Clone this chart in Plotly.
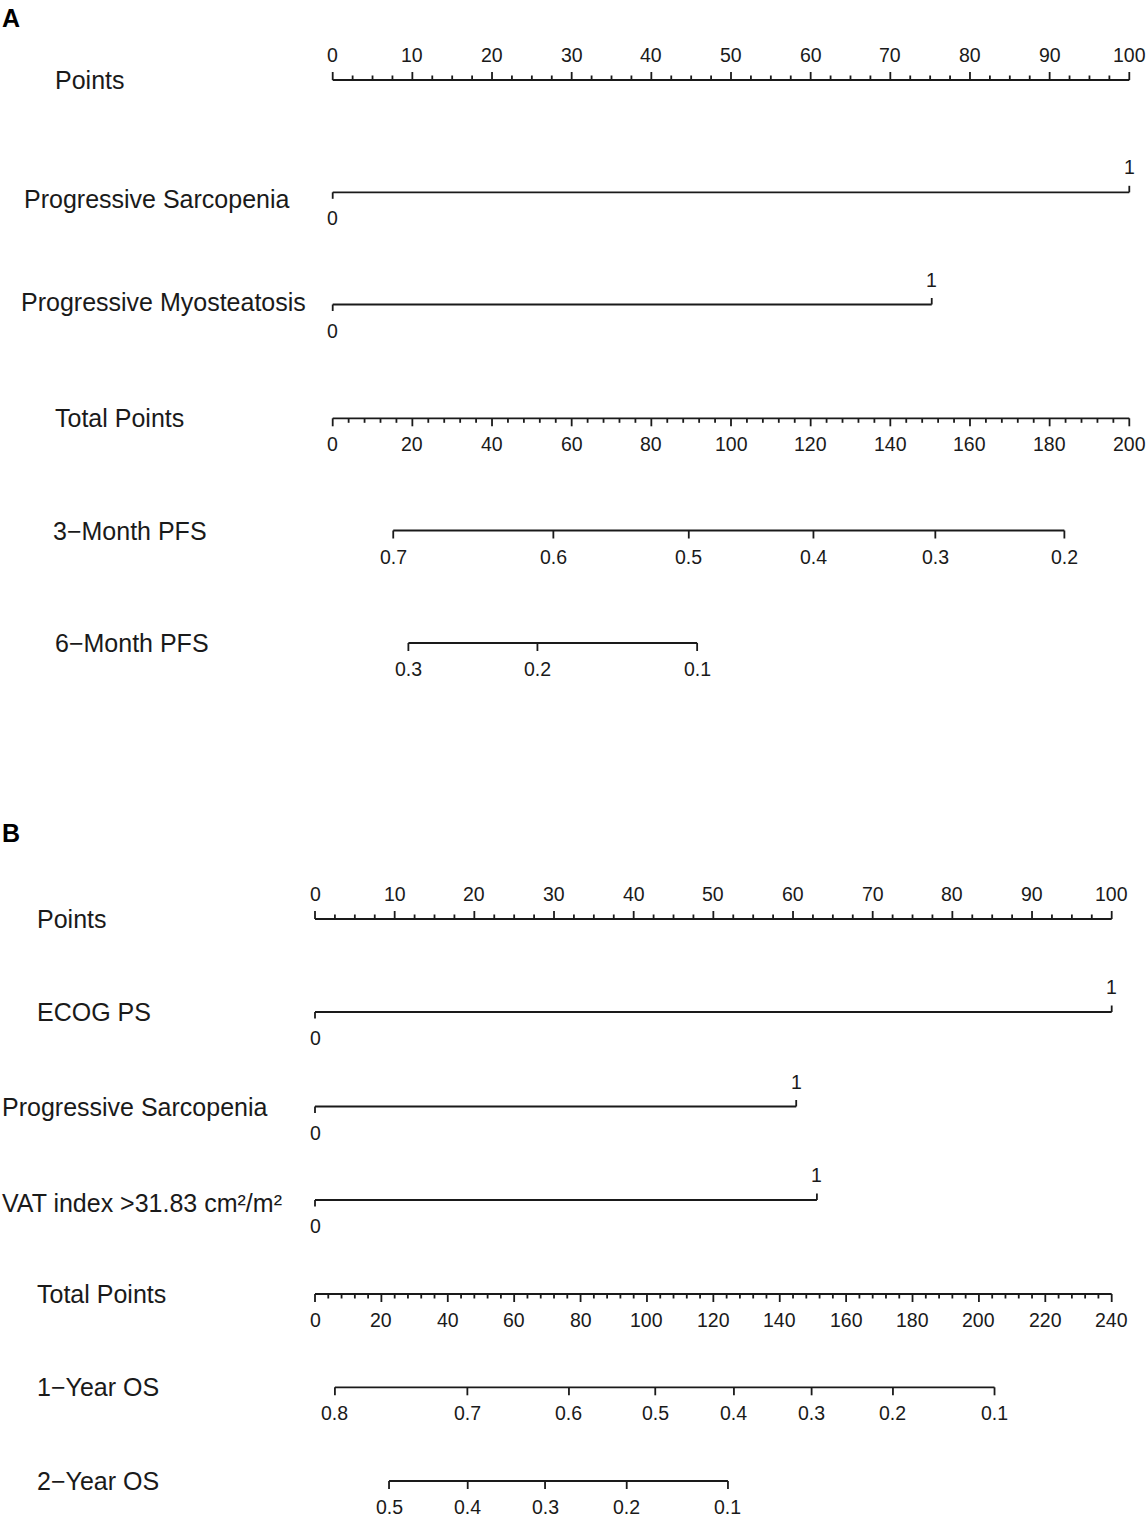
import plotly.graph_objects as go

W, H = 1148, 1517
FONT = "Liberation Sans, Arial, sans-serif"
INK = "#1a1a1a"

# ---------------- Panel A data ----------------
a_points_major = list(range(0, 101, 10))
a_points_minor_step = 2.5
a_var_names = ["Progressive Sarcopenia", "Progressive Myosteatosis"]
a_var_levels = [["0", "1"], ["0", "1"]]
a_var_points = [[0, 100], [0, 75.2]]
a_total_max = 200
a_total_major = list(range(0, 201, 20))
a_total_minor_step = 4
a_pfs3_labels = ["0.7", "0.6", "0.5", "0.4", "0.3", "0.2"]
a_pfs3_total = [15.2, 55.4, 89.4, 120.7, 151.3, 183.7]
a_pfs6_labels = ["0.3", "0.2", "0.1"]
a_pfs6_total = [19.0, 51.4, 91.5]

# ---------------- Panel B data ----------------
b_points_major = list(range(0, 101, 10))
b_points_minor_step = 2.5
b_var_names = ["ECOG PS", "Progressive Sarcopenia", "VAT index >31.83 cm²/m²"]
b_var_levels = [["0", "1"], ["0", "1"], ["0", "1"]]
b_var_points = [[0, 100], [0, 60.4], [0, 63.0]]
b_total_max = 240
b_total_major = list(range(0, 241, 20))
b_total_minor_step = 4
b_os1_labels = ["0.8", "0.7", "0.6", "0.5", "0.4", "0.3", "0.2", "0.1"]
b_os1_total = [6.0, 45.9, 76.5, 102.5, 126.2, 149.6, 174.1, 204.7]
b_os2_labels = ["0.5", "0.4", "0.3", "0.2", "0.1"]
b_os2_total = [22.3, 46.0, 69.3, 93.9, 124.4]

# ---------------- layout (pixel geometry) ----------------
A_X0, A_X100 = 332.7, 1129.3   # pixel of 0 and 100 points, panel A
B_X0, B_X100 = 315.0, 1111.7   # panel B
A_ROWS = [80, 192.3, 304.5, 418.3, 530.5, 643]
B_ROWS = [919, 1012, 1106.5, 1200, 1294, 1387.3, 1481]
A_LABEL_X = [53, 22, 19, 53, 51, 53]
A_LABEL_DY = [0, 7, -3, 0, 0, 0]
B_LABEL_X = [35, 35, 0, 0, 35, 35, 35]
B_LABEL_DY = [0, 0, 0, 3, 0, 0, 0]
MAJ, MIN, END = 8, 4.5, 6.5
LAB_UP, LAB_DN = 25, 26

fig = go.Figure()
annotations = []


def add_text(xref, x, y, text, size=19.5, xanchor="center"):
    annotations.append(dict(xref=xref, yref="y", x=x, y=y, text=text, showarrow=False,
                            xanchor=xanchor, yanchor="middle", borderpad=0,
                            font=dict(family=FONT, size=size, color=INK)))


def build_panel(xaxis, xref, rows, label_x, label_dy, names, pts_major, pts_minor,
                var_names, var_levels, var_points, tot_max, tot_major, tot_minor,
                prob_sets):
    xs, ys = [], []

    def seg(x1, y1, x2, y2):
        xs.extend([x1, x2, None])
        ys.extend([y1, y2, None])

    # Points axis
    y = rows[0]
    seg(pts_major[0], y, pts_major[-1], y)
    n = int(round((pts_major[-1] - pts_major[0]) / pts_minor))
    for i in range(n + 1):
        v = pts_major[0] + i * pts_minor
        is_major = any(abs(v - m) < 1e-9 for m in pts_major)
        seg(v, y, v, y - (MAJ if is_major else MIN))
    for m in pts_major:
        add_text(xref, m, y - LAB_UP, str(m))

    # binary variables
    for k, (lv, pv) in enumerate(zip(var_levels, var_points)):
        y = rows[1 + k]
        seg(pv[0], y, pv[1], y)
        seg(pv[0], y, pv[0], y + END)
        seg(pv[1], y, pv[1], y - END)
        add_text(xref, pv[0], y + LAB_DN, lv[0])
        add_text(xref, pv[1], y - LAB_UP, lv[1])

    # Total points axis
    r = 1 + len(var_levels)
    y = rows[r]
    sc = 100.0 / tot_max
    seg(0, y, tot_max * sc, y)
    n = int(round(tot_max / tot_minor))
    for i in range(n + 1):
        v = i * tot_minor
        is_major = any(abs(v - m) < 1e-9 for m in tot_major)
        seg(v * sc, y, v * sc, y + (MAJ if is_major else MIN))
    for m in tot_major:
        add_text(xref, m * sc, y + LAB_DN, str(m))

    # probability axes
    for j, (labs, tots) in enumerate(prob_sets):
        y = rows[r + 1 + j]
        seg(tots[0] * sc, y, tots[-1] * sc, y)
        for lab, t in zip(labs, tots):
            seg(t * sc, y, t * sc, y + MAJ)
            add_text(xref, t * sc, y + LAB_DN, lab)

    fig.add_trace(go.Scatter(x=xs, y=ys, mode="lines", xaxis=xaxis, yaxis="y",
                             line=dict(color=INK, width=1.8), hoverinfo="skip",
                             showlegend=False))

    # row labels
    for nm, lx, dy, ry in zip(names, label_x, label_dy, rows):
        annotations.append(dict(xref="paper", yref="y", x=lx / W, y=ry + dy, text=nm,
                                showarrow=False, xanchor="left", yanchor="middle",
                                font=dict(family=FONT, size=25, color=INK)))


a_names = ["Points"] + a_var_names + ["Total Points", "3\u2212Month PFS", "6\u2212Month PFS"]
b_names = ["Points"] + b_var_names + ["Total Points", "1\u2212Year OS", "2\u2212Year OS"]

build_panel("x", "x", A_ROWS, A_LABEL_X, A_LABEL_DY, a_names, a_points_major,
            a_points_minor_step, a_var_names, a_var_levels, a_var_points,
            a_total_max, a_total_major, a_total_minor_step,
            [(a_pfs3_labels, a_pfs3_total), (a_pfs6_labels, a_pfs6_total)])
build_panel("x2", "x2", B_ROWS, B_LABEL_X, B_LABEL_DY, b_names, b_points_major,
            b_points_minor_step, b_var_names, b_var_levels, b_var_points,
            b_total_max, b_total_major, b_total_minor_step,
            [(b_os1_labels, b_os1_total), (b_os2_labels, b_os2_total)])

# panel letters
for letter, py in [("A", 18), ("B", 833)]:
    annotations.append(dict(xref="paper", yref="y", x=0, y=py, text="<b>%s</b>" % letter,
                            showarrow=False, xanchor="left", yanchor="middle",
                            font=dict(family=FONT, size=25, color="#000")))

a_scale = (A_X100 - A_X0) / 100.0
b_scale = (B_X100 - B_X0) / 100.0
fig.update_layout(
    width=W, height=H, margin=dict(l=0, r=0, t=0, b=0),
    paper_bgcolor="white", plot_bgcolor="white",
    xaxis=dict(range=[-A_X0 / a_scale, (W - A_X0) / a_scale], visible=False, domain=[0, 1]),
    xaxis2=dict(range=[-B_X0 / b_scale, (W - B_X0) / b_scale], visible=False, domain=[0, 1],
                overlaying="x", anchor="y"),
    yaxis=dict(range=[H, 0], visible=False, domain=[0, 1]),
    annotations=annotations,
    showlegend=False,
)

fig.write_html("out.html", config={"displayModeBar": False, "staticPlot": True},
               post_script="document.body.style.margin='0';document.body.style.padding='0';"
                           "document.body.style.overflow='hidden';")
